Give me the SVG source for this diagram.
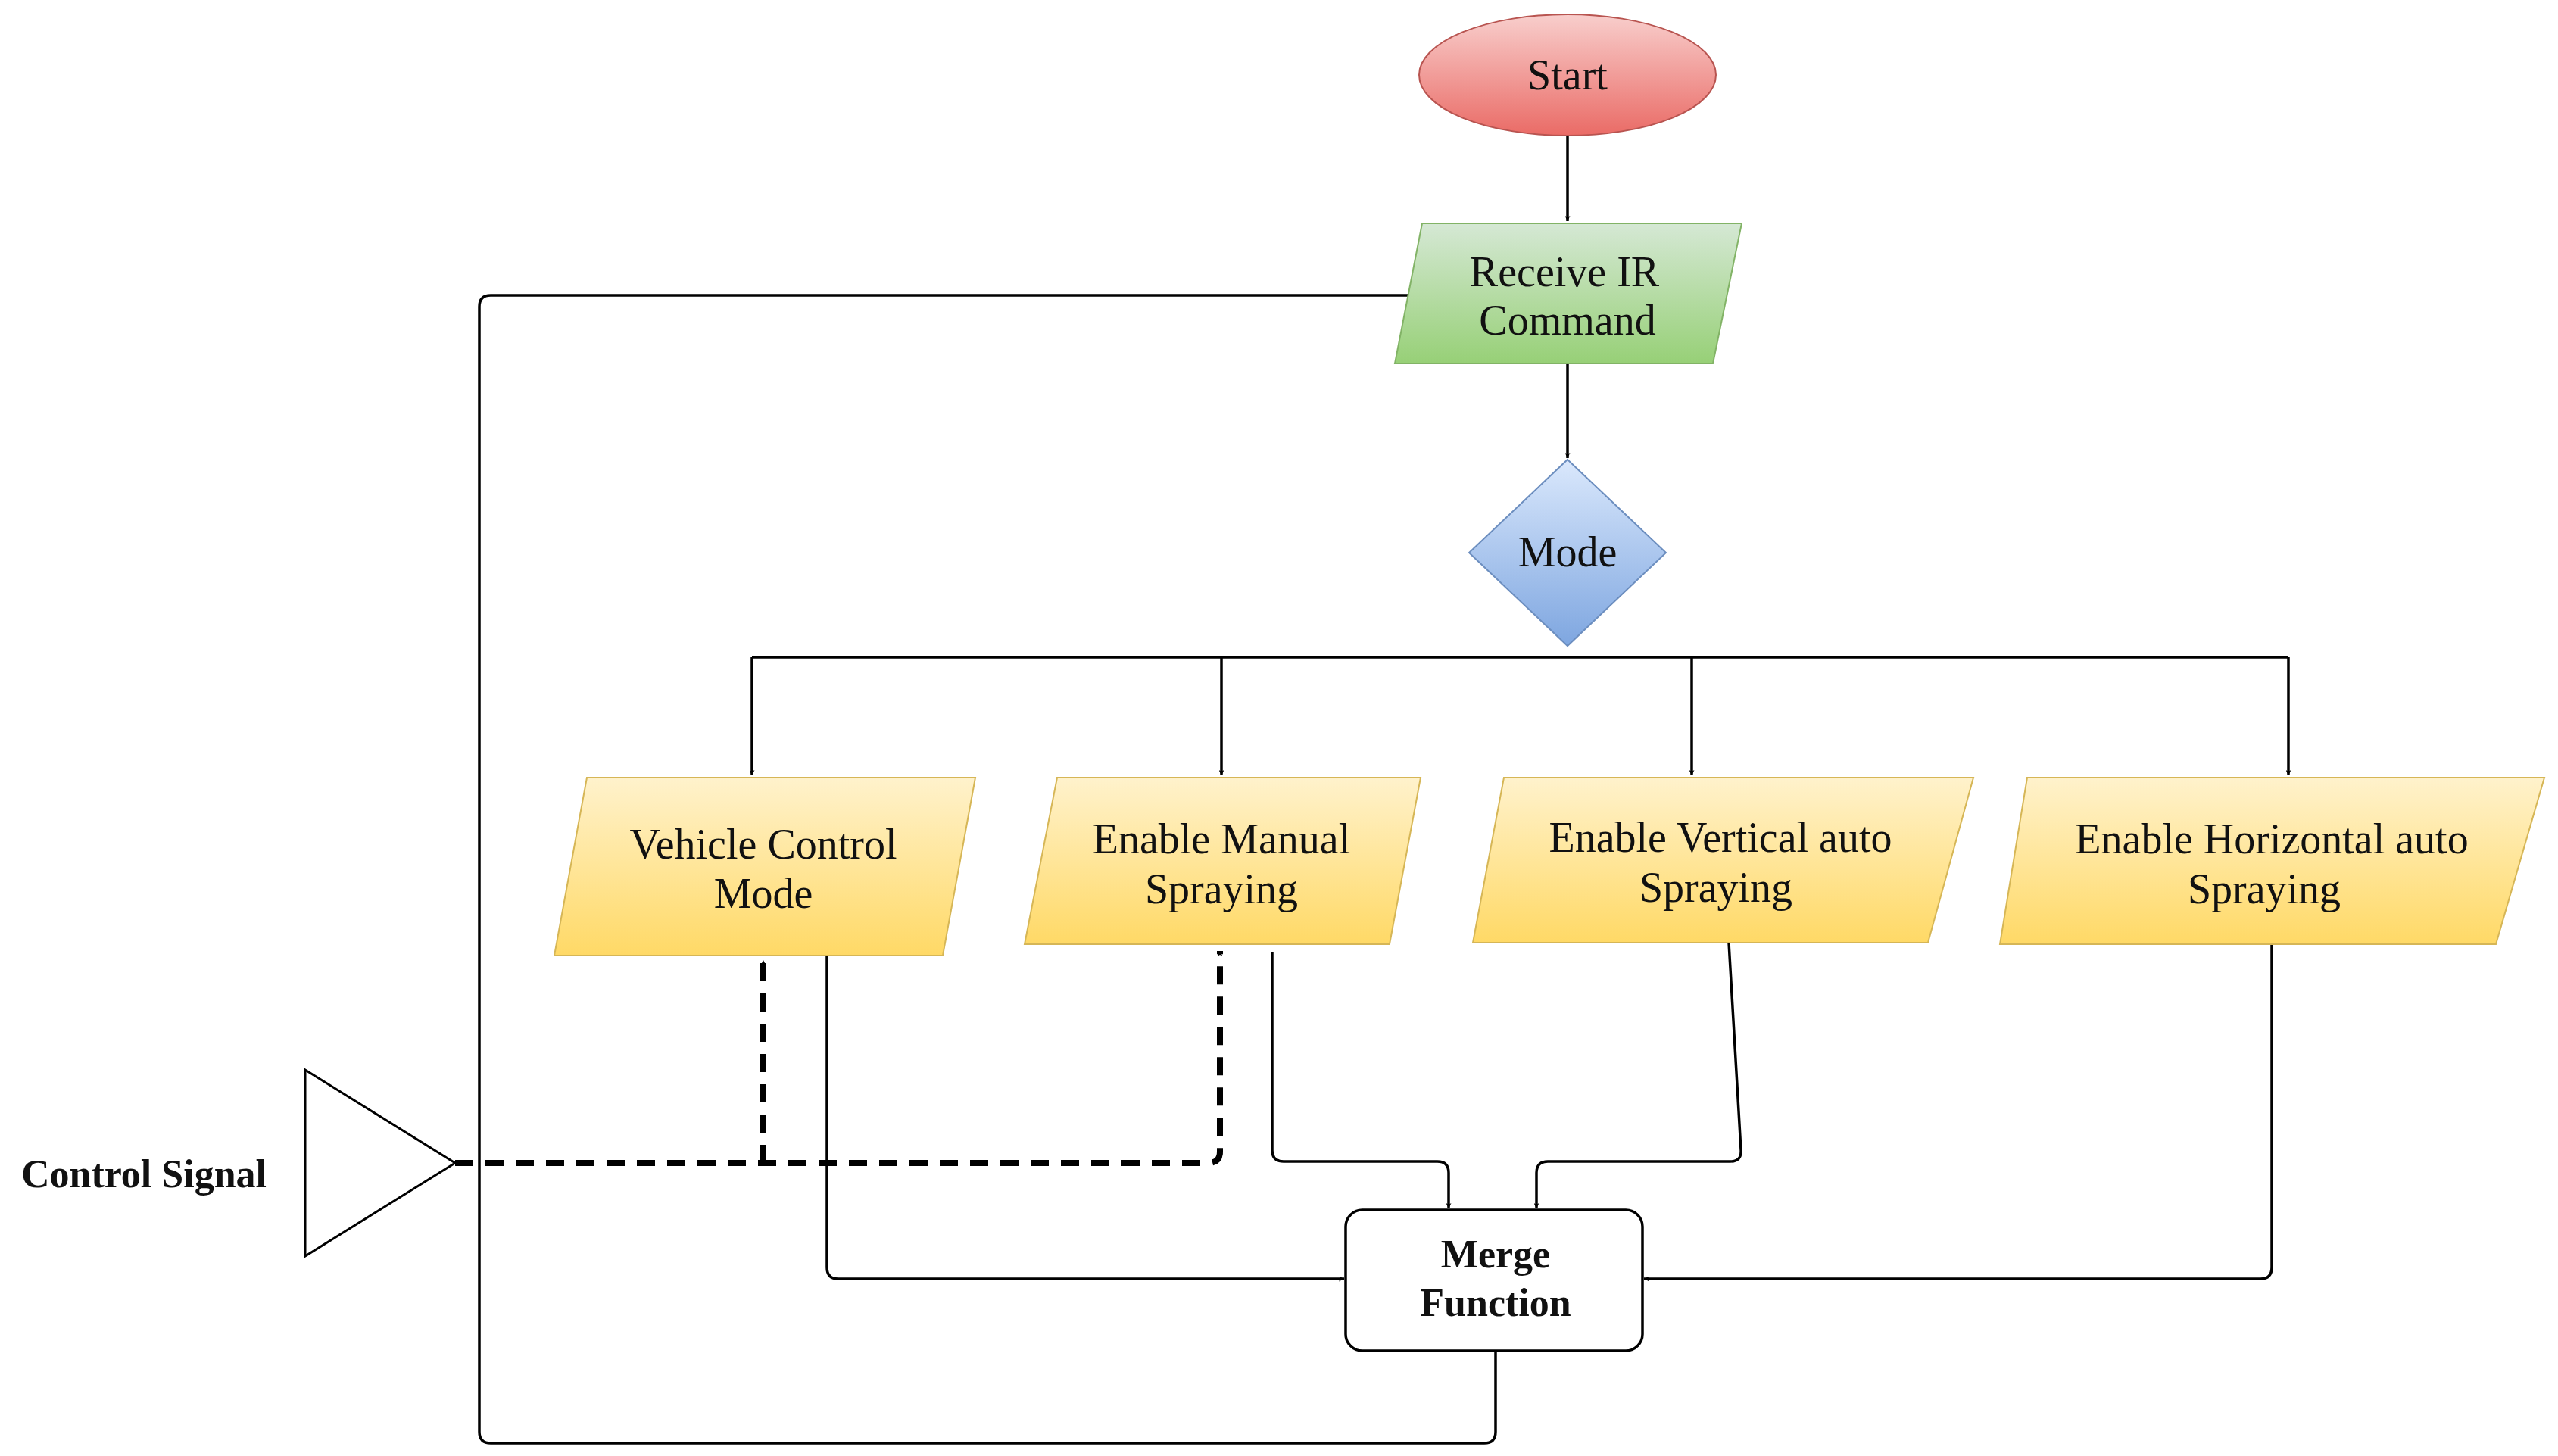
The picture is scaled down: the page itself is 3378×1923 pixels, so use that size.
<svg xmlns="http://www.w3.org/2000/svg" width="3378" height="1923" viewBox="0 0 3378 1923">
<defs>
<linearGradient id="gr" x1="0" y1="0" x2="0" y2="1"><stop offset="0" stop-color="#f8cecc"/><stop offset="1" stop-color="#ea6b66"/></linearGradient>
<linearGradient id="gg" x1="0" y1="0" x2="0" y2="1"><stop offset="0" stop-color="#d5e8d4"/><stop offset="1" stop-color="#97d077"/></linearGradient>
<linearGradient id="gb" x1="0" y1="0" x2="0" y2="1"><stop offset="0" stop-color="#dae8fc"/><stop offset="1" stop-color="#7ea6e0"/></linearGradient>
<linearGradient id="gy" x1="0" y1="0" x2="0" y2="1"><stop offset="0" stop-color="#fff2cc"/><stop offset="1" stop-color="#ffd966"/></linearGradient>
<marker id="a" viewBox="0 0 10 10" refX="10" refY="5" markerWidth="7" markerHeight="7" markerUnits="userSpaceOnUse" orient="auto"><path d="M0,0 L10,5 L0,10 L3,5 Z" fill="#000"/></marker>
</defs>
<style>
text{font-family:"Liberation Serif","DejaVu Serif",serif;font-size:56px;text-anchor:middle;fill:#111}
.b{font-weight:bold;font-size:52px}
.c{fill:none;stroke:#000;stroke-width:3.5;marker-end:url(#a)}
.c marker{}
.d{fill:none;stroke:#000;stroke-width:8;stroke-dasharray:24 16;marker-end:url(#a)}
</style>
<rect width="3378" height="1923" fill="#fff"/>
<g id="connectors">
<path class="c" style="marker-end:url(#a)" d="M2070,179 V292" marker-end="url(#a)"/>
<path class="c" d="M2070,480 V605"/>
<path d="M993,868 H3022" fill="none" stroke="#000" stroke-width="3.5"/>
<path class="c" d="M993,868 V1024"/>
<path class="c" d="M1613,868 V1024"/>
<path class="c" d="M2234,868 V1024"/>
<path class="c" d="M3022,868 V1024"/>
<path class="c" d="M1092,1258 V1674 Q1092,1689 1107,1689 H1775"/>
<path class="c" d="M1680,1258 V1519 Q1680,1534 1695,1534 H1898 Q1913,1534 1913,1549 V1596"/>
<path class="c" d="M2283,1245 L2299,1519 Q2300,1534 2285,1534 H2044 Q2029,1534 2029,1549 V1596"/>
<path class="c" d="M3000,1247 V1674 Q3000,1689 2985,1689 H2171"/>
<path class="c" d="M1975,1784 V1891 Q1975,1906 1960,1906 H648 Q633,1906 633,1891 V405 Q633,390 648,390 H1866"/>
<path class="d" d="M601,1536 H1596 Q1611,1536 1611,1521 V1256" style="marker-end:url(#a)"/>
<path class="d" d="M1008,1536 V1268"/>
</g>
<g id="start"><ellipse cx="2070" cy="99" rx="196" ry="80" fill="url(#gr)" stroke="#b85450" stroke-width="2"/><text x="2070" y="118">Start</text></g>
<g id="receive"><polygon points="1878,295 2300,295 2262,480 1842,480" fill="url(#gg)" stroke="#82b366" stroke-width="2"/><text x="2066" y="378">Receive IR</text><text x="2070" y="442">Command</text></g>
<g id="mode"><polygon points="2070,607 2200,730 2070,853 1940,730" fill="url(#gb)" stroke="#6c8ebf" stroke-width="2"/><text x="2070" y="748">Mode</text></g>
<g id="vcm"><polygon points="775,1027 1288,1027 1245,1262 732,1262" fill="url(#gy)" stroke="#d6b656" stroke-width="2"/><text x="1008" y="1134">Vehicle Control</text><text x="1008" y="1199">Mode</text></g>
<g id="ems"><polygon points="1396,1027 1876,1027 1835,1247 1353,1247" fill="url(#gy)" stroke="#d6b656" stroke-width="2"/><text x="1613" y="1127">Enable Manual</text><text x="1613" y="1193">Spraying</text></g>
<g id="evs"><polygon points="1986,1027 2606,1027 2546,1245 1945,1245" fill="url(#gy)" stroke="#d6b656" stroke-width="2"/><text x="2272" y="1125">Enable Vertical auto</text><text x="2266" y="1191">Spraying</text></g>
<g id="ehs"><polygon points="2677,1027 3360,1027 3296,1247 2641,1247" fill="url(#gy)" stroke="#d6b656" stroke-width="2"/><text x="3000" y="1127">Enable Horizontal auto</text><text x="2990" y="1193">Spraying</text></g>
<g id="merge"><rect x="1777" y="1598" width="392" height="186" rx="22" fill="#fff" stroke="#000" stroke-width="3.5"/><text class="b" x="1975" y="1674">Merge</text><text class="b" x="1975" y="1738">Function</text></g>
<g id="signal"><polygon points="403,1413 601,1536 403,1659" fill="#fff" stroke="#000" stroke-width="3"/><text class="b" x="190" y="1568">Control Signal</text></g>
</svg>
